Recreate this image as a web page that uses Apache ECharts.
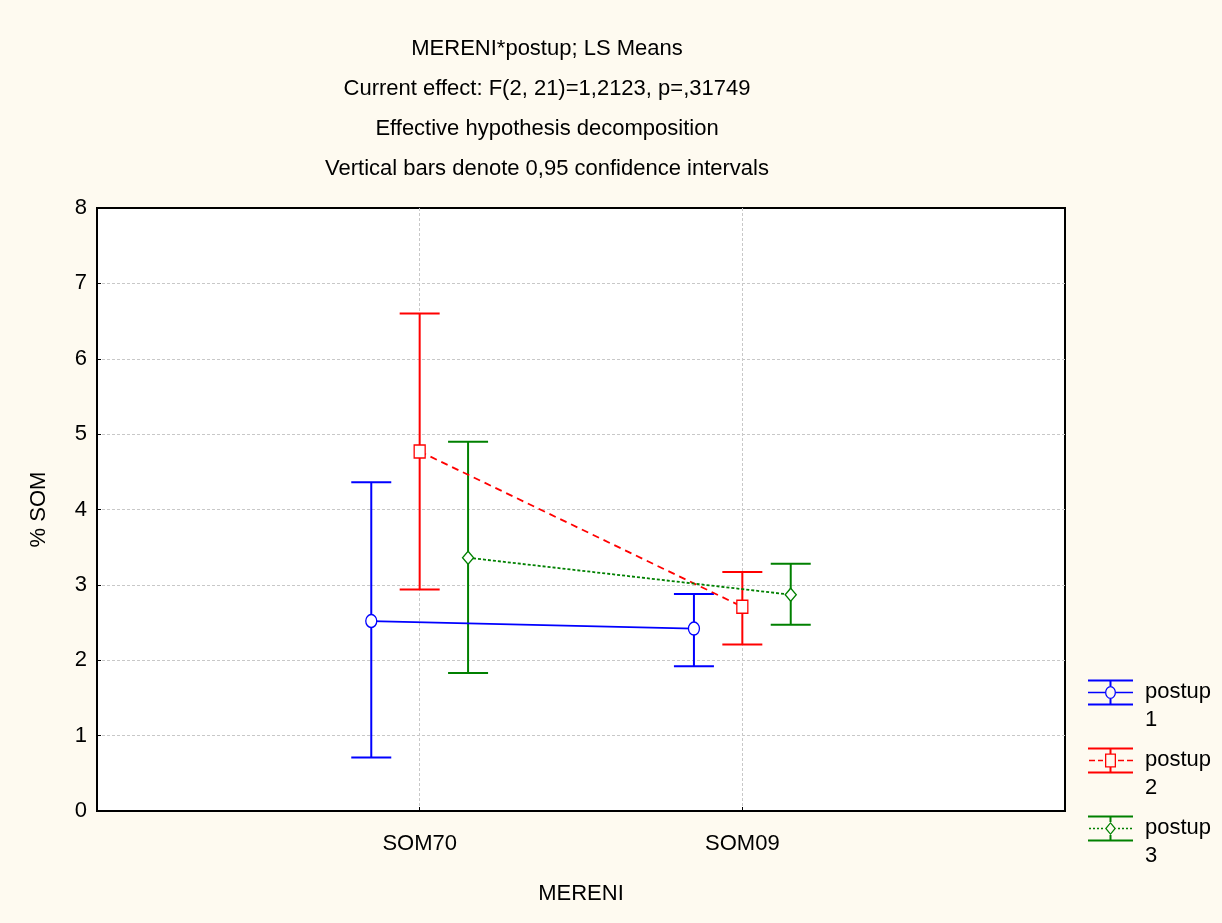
<!DOCTYPE html>
<html>
<head>
<meta charset="utf-8">
<title>MERENI*postup; LS Means</title>
<script src="https://cdn.jsdelivr.net/npm/echarts@6/dist/echarts.min.js"></script>
<style>
  html, body { margin: 0; padding: 0; background: #fefaf0; }
  #chart { width: 1222px; height: 923px; }
</style>
</head>
<body>
<div id="chart"></div>
<script>
// Measurement occasions (x categories) and group names
const categories = ['SOM70', 'SOM09'];
const groups = ['postup 1', 'postup 2', 'postup 3'];

// LS means of % SOM per group, one value per occasion
const means1 = [2.52, 2.42];
const means2 = [4.77, 2.71];
const means3 = [3.36, 2.87];

// 0,95 confidence interval bounds
const lower1 = [0.71, 1.92];
const upper1 = [4.36, 2.88];
const lower2 = [2.94, 2.21];
const upper2 = [6.60, 3.17];
const lower3 = [1.83, 2.47];
const upper3 = [4.90, 3.28];

// Y axis tick labels
const yTicks = ['0', '1', '2', '3', '4', '5', '6', '7', '8'];

const colors = ['#0000ff', '#ff0000', '#008000'];
const symbols = ['circle', 'rect', 'diamond'];
const lineTypes = ['solid', [7, 5], [3, 2]];
const FONT = '"Liberation Sans", Arial, sans-serif';

const meansAll = [means1, means2, means3];
const lowerAll = [lower1, lower2, lower3];
const upperAll = [upper1, upper2, upper3];

// groups are dodged sideways around each category position (1, 2, ...)
const dodge = 0.15;
const xPos = (ci, gi) => ci + 1 + (gi - 1) * dodge;

// legend icons: error bar with centre marker, drawn as filled path pieces (45 x 26);
// a tiny speck at (52, 53) widens and deepens the icon box so the marker lines up
// with the first line of the two-line label and the label sits a little further right
const bars = 'M0 0H45V2H0Z M0 24H45V26H0Z M21.5 2H23.5V6.5H21.5Z M21.5 19.5H23.5V24H21.5Z';
const speck = 'M51.95 52.95H52V53H51.95Z';
const midSolid = 'M0 12.3H17V13.7H0Z M28 12.3H45V13.7H28Z';
const midDash = 'M1 12.3H7V13.7H1Z M10 12.3H15V13.7H10Z M30 12.3H36V13.7H30Z M39 12.3H45V13.7H39Z';
const midDot = 'M1 12.3H3V13.7H1Z M5 12.3H7V13.7H5Z M9 12.3H11V13.7H9Z M13 12.3H15V13.7H13Z ' +
               'M30 12.3H32V13.7H30Z M34 12.3H36V13.7H34Z M38 12.3H40V13.7H38Z M42 12.3H44V13.7H42Z';
const ring = 'M17 13A5.5 6.5 0 0 0 28 13A5.5 6.5 0 0 0 17 13Z M18.3 13A4.2 5.2 0 0 1 26.7 13A4.2 5.2 0 0 1 18.3 13Z';
const box = 'M17 6H28V20H17Z M18.3 7.3V18.7H26.7V7.3Z';
const rhomb = 'M22.5 6.5L28 13L22.5 19.5L17 13Z M22.5 8.3L18.7 13L22.5 17.7L26.3 13Z';
const legendIcons = [
  'path://' + bars + ' ' + midSolid + ' ' + ring + ' ' + speck,
  'path://' + bars + ' ' + midDash + ' ' + box + ' ' + speck,
  'path://' + bars + ' ' + midDot + ' ' + rhomb + ' ' + speck
];

const series = [];

// confidence interval bars
groups.forEach((name, gi) => {
  series.push({
    name: name,
    type: 'custom',
    z: 2,
    silent: true,
    data: categories.map((c, ci) => [xPos(ci, gi), lowerAll[gi][ci], upperAll[gi][ci]]),
    encode: { x: 0, y: [1, 2] },
    renderItem: function (params, api) {
      const x = api.value(0);
      const lo = api.coord([x, api.value(1)]);
      const hi = api.coord([x, api.value(2)]);
      const half = 20;
      const style = { stroke: colors[gi], lineWidth: 2, fill: null };
      return {
        type: 'group',
        children: [
          { type: 'line', shape: { x1: hi[0], y1: hi[1], x2: lo[0], y2: lo[1] }, style: style },
          { type: 'line', shape: { x1: hi[0] - half, y1: hi[1], x2: hi[0] + half, y2: hi[1] }, style: style },
          { type: 'line', shape: { x1: lo[0] - half, y1: lo[1], x2: lo[0] + half, y2: lo[1] }, style: style }
        ]
      };
    }
  });
});

// mean lines with hollow markers
groups.forEach((name, gi) => {
  series.push({
    name: name,
    type: 'line',
    z: 3,
    data: categories.map((c, ci) => [xPos(ci, gi), meansAll[gi][ci]]),
    symbol: symbols[gi],
    symbolSize: [11, 13],
    showAllSymbol: true,
    lineStyle: { color: colors[gi], width: 1.8, type: lineTypes[gi] },
    itemStyle: { color: '#ffffff', borderColor: colors[gi], borderWidth: 1.4 },
    emphasis: { disabled: true }
  });
});

const gridLine = { show: true, showMinLine: false, showMaxLine: false,
                   lineStyle: { color: '#c8c8c8', type: [3, 2], width: 1 } };

const chart = echarts.init(document.getElementById('chart'), null, { renderer: 'canvas' });
chart.setOption({
  animation: false,
  backgroundColor: '#fefaf0',
  textStyle: { fontFamily: FONT },
  title: {
    text: 'MERENI*postup; LS Means\nCurrent effect: F(2, 21)=1,2123, p=,31749\nEffective hypothesis decomposition\nVertical bars denote 0,95 confidence intervals',
    left: 542,
    top: 24,
    textAlign: 'center',
    textStyle: { fontFamily: FONT, fontSize: 22, fontWeight: 'normal', color: '#000', lineHeight: 40 }
  },
  legend: {
    orient: 'vertical',
    left: 1083,
    top: 673,
    itemWidth: 52,
    itemHeight: 53,
    itemGap: 12,
    selectedMode: false,
    data: groups.map((g, gi) => ({
      name: g,
      icon: legendIcons[gi],
      itemStyle: { color: colors[gi], borderWidth: 0 }
    })),
    formatter: n => n.replace(' ', '\n'),
    textStyle: { fontFamily: FONT, fontSize: 22, color: '#000', lineHeight: 28 }
  },
  grid: {
    left: 97, top: 208, right: 157, bottom: 112,
    show: true, backgroundColor: '#ffffff', borderColor: '#000000', borderWidth: 2
  },
  xAxis: {
    type: 'value',
    min: 0, max: categories.length + 1, interval: 1,
    name: 'MERENI',
    nameLocation: 'middle',
    nameGap: 72,
    nameTextStyle: { fontFamily: FONT, fontSize: 22, color: '#000' },
    axisLine: { lineStyle: { color: '#000', width: 2 } },
    axisTick: { inside: true, length: 4, lineStyle: { color: '#000' } },
    axisLabel: {
      fontFamily: FONT, fontSize: 22, color: '#000', margin: 22,
      formatter: v => categories[v - 1] || ''
    },
    splitLine: gridLine
  },
  yAxis: {
    type: 'value',
    min: 0, max: yTicks.length - 1, interval: 1,
    name: '% SOM',
    nameLocation: 'middle',
    nameGap: 47,
    nameTextStyle: { fontFamily: FONT, fontSize: 22, color: '#000' },
    axisLine: { lineStyle: { color: '#000', width: 2 } },
    axisTick: { inside: true, length: 4, lineStyle: { color: '#000' } },
    axisLabel: { fontFamily: FONT, fontSize: 22, color: '#000', margin: 10, formatter: v => yTicks[v] },
    splitLine: gridLine
  },
  series: series
});
</script>
</body>
</html>
